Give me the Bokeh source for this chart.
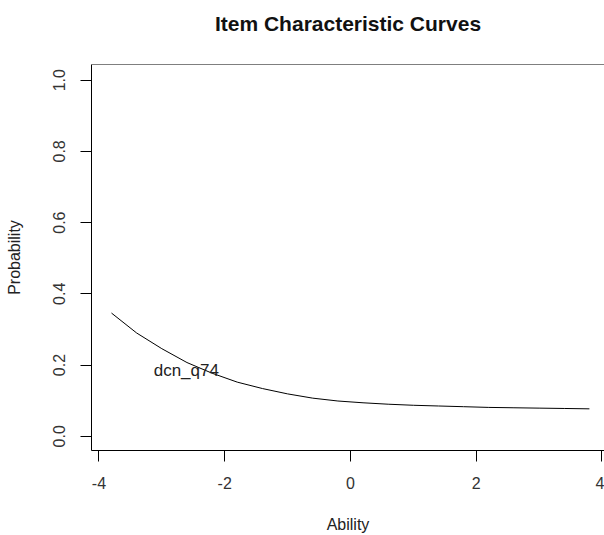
from bokeh.plotting import figure
from bokeh.models import Range1d, FixedTicker, Span, Title, NumeralTickFormatter
from bokeh.core.properties import value
from bokeh.embed import file_html
from bokeh.resources import INLINE

# Data
ability = [-3.8, -3.4, -3.0, -2.6, -2.2, -1.8, -1.4, -1.0, -0.6, -0.2,
           0.2, 0.6, 1.0, 1.4, 1.8, 2.2, 2.6, 3.0, 3.4, 3.8]
probability = [0.346, 0.290, 0.246, 0.207, 0.177, 0.152, 0.134, 0.119, 0.107, 0.099,
               0.094, 0.090, 0.087, 0.085, 0.083, 0.081, 0.080, 0.079, 0.078, 0.077]
item_label = ["dcn_q74"]
item_label_x = [-2.61]
item_label_y = [0.184]
x_ticks = [-4, -2, 0, 2, 4]
y_ticks = [0.0, 0.2, 0.4, 0.6, 0.8, 1.0]
title_text = "Item Characteristic Curves"

FONT = "Liberation Sans"
x_start, x_end = -4.118, 4.04
y_start, y_end = -0.04, 1.044

p = figure(width=604, height=535, output_backend="svg", toolbar_location=None,
           x_range=Range1d(x_start, x_end), y_range=Range1d(y_start, y_end),
           min_border_left=91, min_border_right=0, min_border_top=64,
           min_border_bottom=83)
p.outline_line_color = None
p.grid.visible = False
p.background_fill_color = "white"
p.border_fill_color = "white"

# spacer between frame and title (closest to the frame), then the title itself
p.add_layout(Title(text=" ", text_font_size="2px", standoff=25), "above")
p.add_layout(Title(text=title_text, align="center", text_font=FONT,
                   text_font_size="21px", text_font_style="bold",
                   text_color="#111111", standoff=2), "above")

p.add_layout(Span(location=y_end, dimension="width", line_color="black", line_width=1))

p.line(ability, probability, line_color="black", line_width=1)
p.text(x=item_label_x, y=item_label_y, text=item_label, text_font=value(FONT),
       text_font_size="17px", text_align="center", text_baseline="middle",
       text_color="#222222")

for ax in (p.xaxis[0], p.yaxis[0]):
    ax.axis_line_color = "black"
    ax.axis_line_width = 1
    ax.major_tick_line_color = "black"
    ax.major_tick_in = 0
    ax.major_tick_out = 11
    ax.minor_tick_line_color = None
    ax.major_label_text_font = FONT
    ax.major_label_text_font_size = "16px"
    ax.major_label_text_color = "#333333"
    ax.axis_label_text_font = FONT
    ax.axis_label_text_font_size = "16px"
    ax.axis_label_text_font_style = "normal"
    ax.axis_label_text_color = "#222222"

p.xaxis.ticker = FixedTicker(ticks=x_ticks)
p.yaxis.ticker = FixedTicker(ticks=y_ticks)
p.xaxis.formatter = NumeralTickFormatter(format="0")
p.yaxis.formatter = NumeralTickFormatter(format="0.0")
p.xaxis.axis_label = "Ability"
p.yaxis.axis_label = "Probability"
p.xaxis.major_label_standoff = 15
p.xaxis.axis_label_standoff = 24
p.yaxis.major_label_orientation = "vertical"
p.yaxis.major_label_standoff = 15
p.yaxis.axis_label_standoff = 28

open("out.html", "w").write(file_html(p, INLINE))
